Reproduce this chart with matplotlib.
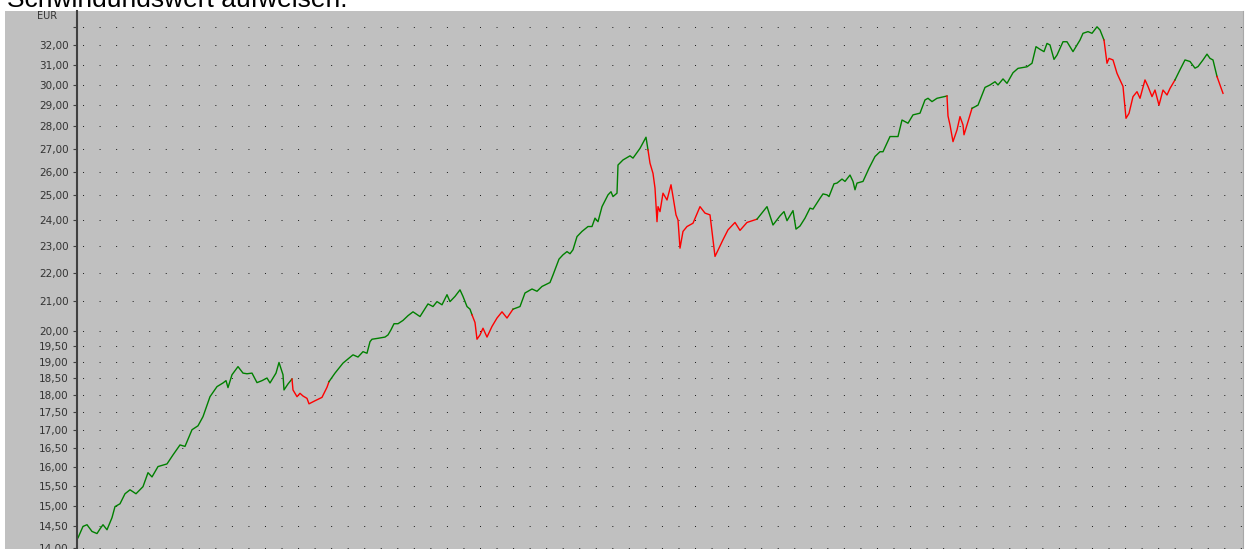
import matplotlib
matplotlib.use("Agg")
import matplotlib.pyplot as plt
import matplotlib.patches as patches
from matplotlib.ticker import FixedLocator, FixedFormatter, NullLocator

# trading days since start of the chart and closing price in EUR
days = [
    0, 5, 9, 14, 19, 22, 25, 29, 34, 37, 42, 47, 52, 58, 65, 70, 74, 80, 89, 95,
    102, 107, 114, 120, 125, 132, 139, 145, 148, 150, 154, 160, 165, 169, 174, 179, 184, 189, 192, 198,
    201, 205, 206, 210, 214, 215, 219, 222, 225, 229, 231, 237, 244, 249, 251, 257, 265, 275, 280, 285,
    289, 292, 294, 300, 307, 310, 313, 316, 320, 325, 330, 335, 342, 350, 355, 359, 364, 369, 372, 377,
    382, 385, 389, 392, 394, 397, 399, 402, 405, 409, 414, 419, 424, 429, 435, 442, 447, 454, 459, 464,
    472, 475, 481, 485, 489, 492, 495, 499, 504, 510, 514, 517, 520, 524, 530, 533, 535, 539, 540, 545,
    552, 555, 562, 568, 570, 572, 575, 577, 579, 580, 582, 585, 589, 593, 595, 598, 600, 602, 605, 609,
    615, 622, 627, 632, 637, 641, 645, 650, 657, 662, 669, 679, 689, 695, 702, 706, 709, 715, 718, 722,
    727, 732, 735, 742, 745, 749, 751, 756, 759, 764, 767, 772, 775, 777, 779, 785, 791, 797, 802, 805,
    812, 817, 820, 824, 830, 835, 842, 847, 850, 854, 859, 869, 870, 872, 875, 879, 882, 885, 886, 889,
    894, 900, 907, 912, 917, 920, 925, 929, 935, 940, 949, 954, 958, 962, 966, 969, 972, 976, 979, 985,
    989, 995, 1002, 1005, 1010, 1014, 1019, 1022, 1026, 1029, 1031, 1035, 1039, 1042, 1045, 1048, 1051, 1055, 1059, 1062,
    1067, 1070, 1074, 1077, 1081, 1085, 1089, 1092, 1097, 1102, 1107, 1112, 1117, 1120, 1125, 1129, 1132, 1135, 1139, 1142,
    1145,
]
prices = [
    14.23, 14.50, 14.54, 14.38, 14.33, 14.44, 14.54, 14.42, 14.71, 14.98, 15.05, 15.30, 15.40, 15.30, 15.48, 15.84, 15.73, 16.00, 16.07, 16.31,
    16.58, 16.54, 17.00, 17.11, 17.37, 17.95, 18.25, 18.36, 18.43, 18.22, 18.61, 18.86, 18.66, 18.64, 18.66, 18.37, 18.43, 18.51, 18.36, 18.66,
    18.99, 18.61, 18.15, 18.33, 18.48, 18.15, 17.95, 18.05, 17.97, 17.90, 17.74, 17.83, 17.93, 18.23, 18.40, 18.66, 18.97, 19.23, 19.16, 19.33,
    19.28, 19.65, 19.73, 19.76, 19.80, 19.87, 20.04, 20.24, 20.24, 20.35, 20.51, 20.64, 20.48, 20.91, 20.82, 20.99, 20.88, 21.23, 20.99, 21.17,
    21.40, 21.17, 20.82, 20.73, 20.54, 20.28, 19.73, 19.87, 20.09, 19.80, 20.15, 20.43, 20.64, 20.43, 20.73, 20.82, 21.29, 21.43, 21.35, 21.52,
    21.66, 21.93, 22.51, 22.67, 22.79, 22.71, 22.86, 23.36, 23.56, 23.75, 23.75, 24.08, 23.94, 24.54, 25.02, 25.15, 24.95, 25.09, 26.28, 26.50,
    26.68, 26.58, 27.01, 27.51, 26.94, 26.36, 25.92, 25.30, 23.94, 24.54, 24.34, 25.09, 24.81, 25.44, 24.95, 24.21, 24.01, 22.92, 23.56, 23.75,
    23.88, 24.54, 24.28, 24.21, 22.61, 22.92, 23.24, 23.62, 23.91, 23.60, 23.91, 24.04, 24.54, 23.81, 24.17, 24.34, 23.98, 24.38, 23.65, 23.77,
    24.08, 24.48, 24.44, 24.88, 25.06, 25.02, 24.95, 25.48, 25.51, 25.68, 25.58, 25.85, 25.58, 25.23, 25.51, 25.58, 26.14, 26.65, 26.86, 26.86,
    27.54, 27.54, 27.54, 28.30, 28.15, 28.54, 28.62, 29.25, 29.33, 29.17, 29.33, 29.44, 28.49, 28.07, 27.31, 27.84, 28.46, 28.07, 27.62, 28.07,
    28.85, 29.00, 29.86, 29.98, 30.14, 29.98, 30.28, 30.06, 30.59, 30.81, 30.89, 31.07, 31.93, 31.79, 31.67, 32.10, 32.02, 31.27, 31.49, 32.19,
    32.19, 31.67, 32.28, 32.64, 32.73, 32.64, 32.99, 32.82, 32.28, 31.07, 31.32, 31.24, 30.56, 30.23, 29.91, 28.38, 28.61, 29.41, 29.65, 29.33,
    30.23, 29.91, 29.41, 29.73, 29.00, 29.73, 29.49, 29.81, 30.23, 30.74, 31.24, 31.16, 30.82, 30.90, 31.24, 31.54, 31.32, 31.24, 30.40, 29.98,
    29.57,
]

# periods (in days) where the trend signal is negative -> drawn red
red_ranges = [(214, 251), (394, 435), (570, 679), (869, 894), (1026, 1097), (1139, 1145)]

y_ticks = [14.0, 14.5, 15.0, 15.5, 16.0, 16.5, 17.0, 17.5, 18.0, 18.5, 19.0, 19.5,
           20.0, 21.0, 22.0, 23.0, 24.0, 25.0, 26.0, 27.0, 28.0, 29.0, 30.0, 31.0, 32.0, 33.0]
y_labels = [f"{v:.2f}".replace(".", ",") for v in y_ticks[:-1]] + [""]

W, H = 1245, 549
fig = plt.figure(figsize=(W / 100, H / 100), dpi=100)

# caption line of the surrounding document, cut off by the chart screenshot
fig.text(7 / W, 1 - 7 / H, "Schwingungswert aufweisen.", fontsize=19,
         family="Liberation Sans", color="black", va="baseline", zorder=-3)
fig.patches.append(patches.Rectangle((0, 1 - 11 / H), 1, 4 / H, transform=fig.transFigure,
                                     facecolor="white", edgecolor="none", zorder=-2))
# grey chart panel (also behind the tick labels)
fig.patches.append(patches.Rectangle((5 / W, 0), (1243 - 5) / W, (H - 11) / H,
                                     transform=fig.transFigure, facecolor="#c0c0c0",
                                     edgecolor="none", zorder=-1))

ax = fig.add_axes([77 / W, (H - 560) / H, (1243 - 77) / W, 549 / H])
ax.set_facecolor("#c0c0c0")
ax.set_yscale("log")
ax.set_xlim(-1, 1165)
ax.set_ylim(13.72, 33.86)

ax.yaxis.set_major_locator(FixedLocator(y_ticks))
ax.yaxis.set_major_formatter(FixedFormatter(y_labels))
ax.yaxis.set_minor_locator(NullLocator())
ax.xaxis.set_major_locator(NullLocator())
ax.xaxis.set_minor_locator(NullLocator())
ax.tick_params(axis="y", direction="out", length=3, width=0.8, color="#404040",
               pad=3, labelsize=7.5, labelcolor="#333333")

# dotted grid: one dot every ~16.5 px along each price level
ax.yaxis.grid(True, color="#202020", linewidth=0.72, linestyle=(11.0, (1, 15.54)))
ax.set_axisbelow(True)

for side in ["top", "bottom"]:
    ax.spines[side].set_visible(False)
ax.spines["left"].set_color("#404040")
ax.spines["left"].set_linewidth(1.5)
ax.spines["right"].set_color("#a8a8a8")
ax.spines["right"].set_linewidth(0.8)


def is_red(d0, d1):
    return any(a <= d0 and d1 <= b for a, b in red_ranges)


# split the price line into runs of the same colour
run_x, run_y = [days[0]], [prices[0]]
run_red = is_red(days[0], days[1])
for i in range(1, len(days)):
    seg_red = is_red(days[i - 1], days[i])
    if seg_red != run_red:
        ax.plot(run_x, run_y, color="#ff0000" if run_red else "#008000", lw=1.0)
        run_x, run_y = [days[i - 1]], [prices[i - 1]]
        run_red = seg_red
    run_x.append(days[i])
    run_y.append(prices[i])
ax.plot(run_x, run_y, color="#ff0000" if run_red else "#008000", lw=1.0)

fig.text(47 / W, 1 - 16 / H, "EUR", fontsize=7, color="#333333", ha="center", va="center")

fig.savefig("out.png", dpi=100)
